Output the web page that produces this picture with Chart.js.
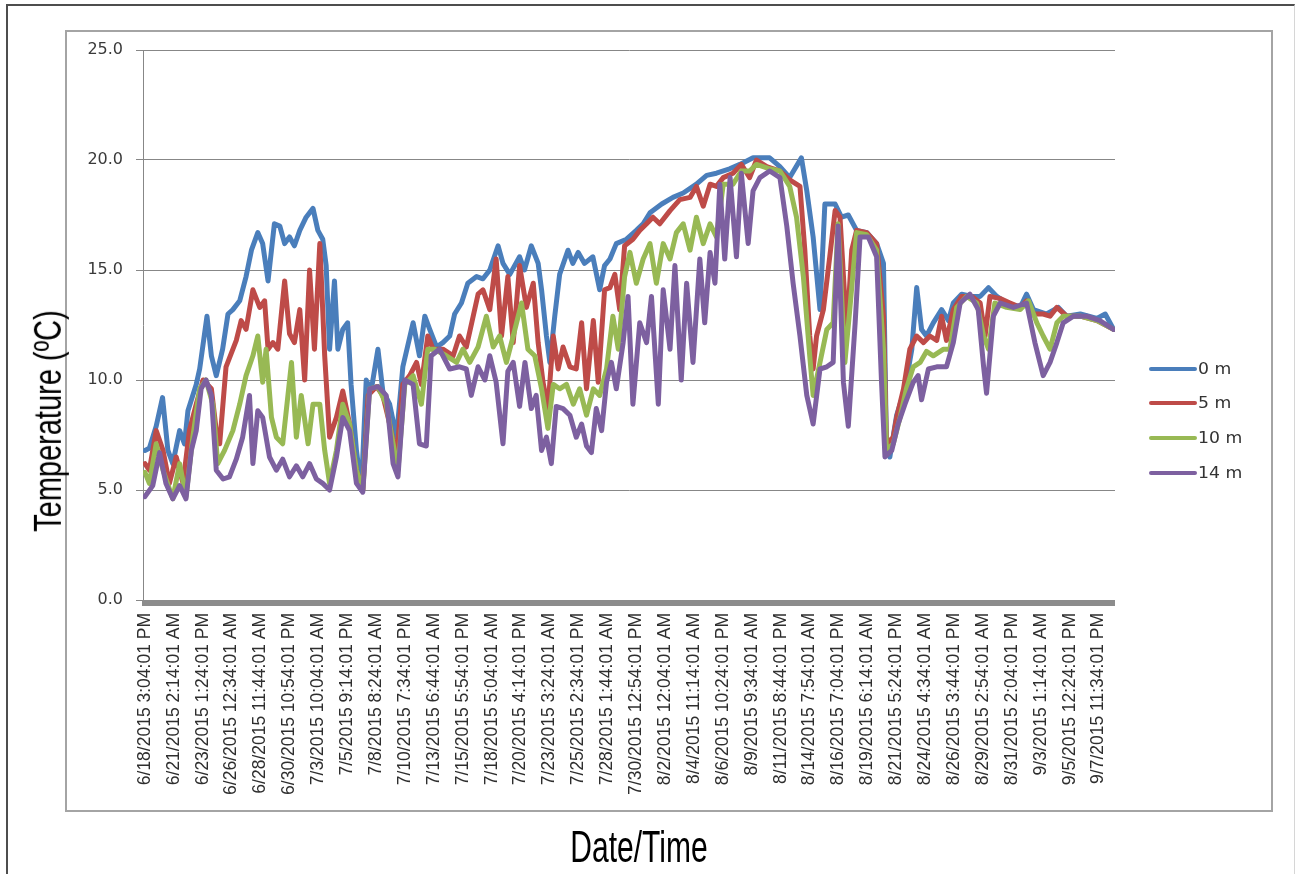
<!DOCTYPE html>
<html>
<head>
<meta charset="utf-8">
<title>Water temperature by depth</title>
<script src="https://cdn.jsdelivr.net/npm/chart.js@4.4.1/dist/chart.umd.min.js"></script>
<style>
  html, body { margin: 0; padding: 0; background: #fff; }
  #wrap { position: relative; width: 1295px; height: 874px; overflow: hidden; background: #fff; }
  #outer { position: absolute; left: 6px; top: 4px; width: 1286px; height: 900px;
           border-left: 2px solid #4d4d4d; border-top: 2px solid #4d4d4d; border-right: 1px solid #d6d6d6; }
  #inner { position: absolute; left: 65px; top: 30px; width: 1204px; height: 778px; border: 2px solid #a4a4a4; }
  #chart { position: absolute; left: 0; top: 0; }
  .title { position: absolute; font-family: "Liberation Sans", Arial, sans-serif; font-size: 29px;
           line-height: 29px; white-space: nowrap; color: #000; }
  #ytitle { left: 48px; top: 421px; transform: translate(-50%, -50%) rotate(-90deg) scale(1, 1.34); }
  #xtitle { left: 639px; top: 847px; font-size: 30px; line-height: 30px;
            transform: translate(-50%, -50%) scale(1, 1.5); }
  .legItem { position: absolute; left: 1149px; height: 20px; }
  .legLine { position: absolute; left: 0; top: 8px; width: 48px; height: 4px; border-radius: 2px; }
  .legText { position: absolute; left: 49px; top: 0; font-family: "DejaVu Sans", Verdana, sans-serif;
             font-size: 15px; line-height: 20px; color: #333; white-space: nowrap;
             transform: scaleX(1.15); transform-origin: left center; }
</style>
</head>
<body>
<div id="wrap">
  <div id="outer"></div>
  <div id="inner"></div>
  <canvas id="chart" width="1295" height="874"></canvas>
  <div id="ytitle" class="title">Temperature (ºC)</div>
  <div id="xtitle" class="title">Date/Time</div>
  <div id="legend"></div>
</div>
<script>
// Series names and colours (Excel-style palette)
const seriesNames  = ['0 m', '5 m', '10 m', '14 m'];
const seriesColors = ['#4A7EBB', '#BE4B48', '#98B954', '#7D60A0'];

// Category labels shown on the time axis, one every 3550 minutes from the first reading
const tickLabels = [
  '6/18/2015 3:04:01 PM', '6/21/2015 2:14:01 AM', '6/23/2015 1:24:01 PM', '6/26/2015 12:34:01 AM',
  '6/28/2015 11:44:01 AM', '6/30/2015 10:54:01 PM', '7/3/2015 10:04:01 AM', '7/5/2015 9:14:01 PM',
  '7/8/2015 8:24:01 AM', '7/10/2015 7:34:01 PM', '7/13/2015 6:44:01 AM', '7/15/2015 5:54:01 PM',
  '7/18/2015 5:04:01 AM', '7/20/2015 4:14:01 PM', '7/23/2015 3:24:01 AM', '7/25/2015 2:34:01 PM',
  '7/28/2015 1:44:01 AM', '7/30/2015 12:54:01 PM', '8/2/2015 12:04:01 AM', '8/4/2015 11:14:01 AM',
  '8/6/2015 10:24:01 PM', '8/9/2015 9:34:01 AM', '8/11/2015 8:44:01 PM', '8/14/2015 7:54:01 AM',
  '8/16/2015 7:04:01 PM', '8/19/2015 6:14:01 AM', '8/21/2015 5:24:01 PM', '8/24/2015 4:34:01 AM',
  '8/26/2015 3:44:01 PM', '8/29/2015 2:54:01 AM', '8/31/2015 2:04:01 PM', '9/3/2015 1:14:01 AM',
  '9/5/2015 12:24:01 PM', '9/7/2015 11:34:01 PM'
];
const tickStepHours = 3550 / 60;
const yTickValues = [0, 5, 10, 15, 20, 25];

// Readings: hours since 6/18/2015 3:04 PM, and temperature in °C
const hours0 = [0,9,23,36,47,57,71,81,88,105,112,127,136,146,159,170,180,194,207,218,
  231,241,252,265,276,286,296,306,317,330,344,354,364,371,378,388,395,405,415,422,
  433,443,453,463,477,487,501,515,528,549,562,573,583,597,610,624,634,648,661,679,
  692,706,723,733,747,767,777,791,805,812,822,829,839,849,866,876,887,900,917,931,
  941,952,965,986,1006,1020,1034,1058,1081,1102,1129,1150,1170,1197,1218,1245,1279,1300,1320,1344,
  1355,1368,1382,1392,1413,1426,1440,1457,1478,1498,1512,1518,1525,1539,1556,1570,1580,1590,1600,1614,
  1631,1645,1655,1672,1693,1710,1727,1744,1764,1792,1805,1819,1846,1870,1887,1915,1949,1966,1983];
const temp0 = [6.8,6.9,7.9,9.2,6.8,6.2,7.7,7.1,8.6,9.8,10.5,12.9,11.1,10.2,11.4,13.0,13.2,13.6,14.7,15.9,
  16.7,16.2,14.5,17.1,17.0,16.2,16.5,16.1,16.8,17.4,17.8,16.8,16.4,15.2,11.4,14.5,11.4,12.3,12.6,9.8,
  6.8,5.0,10.0,9.5,11.4,9.5,8.9,7.4,10.6,12.6,11.1,12.9,12.3,11.5,11.7,12.0,13.0,13.5,14.4,14.7,
  14.6,15.0,16.1,15.3,14.8,15.6,15.0,16.1,15.3,14.1,12.0,10.8,12.9,14.8,15.9,15.3,15.8,15.3,15.6,14.1,
  15.2,15.5,16.2,16.4,16.8,17.1,17.6,18.0,18.3,18.5,18.9,19.3,19.4,19.6,19.8,20.1,20.1,19.7,19.2,20.1,
  18.6,16.5,13.2,18.0,18.0,17.4,17.5,16.8,16.7,16.2,15.3,7.1,6.5,8.4,9.6,11.4,14.2,12.3,12.0,12.6,
  13.2,12.7,13.5,13.9,13.8,13.8,14.2,13.8,13.5,13.3,13.9,13.2,13.0,13.3,12.9,13.0,12.8,13.0,12.3];

const hours5 = [0,9,23,37,50,64,78,91,105,119,136,146,153,166,187,197,207,221,235,245,
  252,262,272,286,296,306,317,327,337,347,358,368,378,392,405,419,433,446,457,474,
  487,501,515,528,542,556,566,579,590,610,631,644,658,672,682,692,706,719,730,743,
  754,767,781,795,805,815,825,836,846,856,870,883,894,904,918,928,941,952,962,972,
  982,999,1013,1027,1040,1054,1075,1095,1116,1129,1143,1157,1170,1184,1204,1221,1238,1252,1273,1300,
  1320,1341,1351,1361,1368,1375,1389,1402,1413,1423,1437,1447,1457,1478,1498,1512,1518,1532,1539,1553,
  1566,1580,1594,1607,1621,1631,1641,1655,1672,1693,1710,1720,1730,1751,1771,1792,1805,1819,1839,1853,
  1867,1887,1915,1949,1983];
const temp5 = [6.2,5.9,7.7,6.8,5.3,6.5,5.3,7.7,8.9,10.0,9.6,7.7,7.1,10.6,11.8,12.7,12.3,14.1,13.3,13.6,
  11.4,11.7,11.4,14.5,12.1,11.7,13.2,10.0,15.0,11.4,16.2,11.1,7.4,8.3,9.5,8.0,5.9,5.0,9.3,9.7,
  9.3,8.0,6.5,9.8,10.2,10.8,9.8,12.0,11.4,11.4,11.1,12.0,11.5,12.9,13.9,14.1,13.2,15.5,12.0,14.7,
  11.7,15.2,13.3,14.4,11.7,9.9,8.7,12.0,10.5,11.5,10.6,10.5,12.6,9.6,12.7,9.9,14.1,14.2,14.8,13.2,
  16.1,16.4,16.8,17.1,17.4,17.1,17.7,18.2,18.3,18.8,17.9,18.9,18.8,19.2,19.4,19.8,19.2,20.0,19.7,19.5,
  19.1,18.8,15.9,12.0,10.5,12.0,13.2,15.6,17.7,17.4,12.1,15.9,16.8,16.7,16.2,12.9,7.1,7.4,8.3,9.6,
  11.4,12.0,11.7,12.0,11.8,12.9,11.8,13.2,13.8,13.8,13.5,12.0,13.8,13.7,13.5,13.3,13.6,13.0,13.0,12.9,
  13.3,12.9,12.9,12.7,12.3];

const hours10 = [0,9,23,37,57,71,84,98,112,125,139,149,163,180,194,207,221,231,241,248,
  259,269,282,300,310,320,334,344,358,368,378,392,405,419,433,446,460,477,494,508,
  518,532,549,566,579,593,617,638,651,665,682,699,713,726,740,754,771,784,798,812,
  825,836,849,863,877,890,904,918,931,945,958,969,982,993,1006,1020,1034,1047,1061,1075,
  1088,1102,1116,1129,1143,1157,1170,1184,1204,1221,1238,1252,1279,1300,1320,1334,1348,1361,1368,1382,
  1396,1409,1419,1433,1443,1457,1478,1498,1512,1518,1532,1546,1559,1573,1587,1600,1614,1635,1648,1662,
  1682,1703,1717,1727,1740,1764,1792,1809,1826,1839,1853,1867,1880,1915,1949,1983];
const temp10 = [5.8,5.3,7.1,5.9,4.6,6.2,4.7,7.4,9.6,10.0,8.9,6.2,6.8,7.7,8.9,10.2,11.1,12.0,9.9,11.4,
  8.3,7.4,7.1,10.8,7.4,9.3,7.1,8.9,8.9,6.8,5.3,6.8,8.9,8.0,5.9,5.0,9.6,9.7,8.9,7.1,
  5.9,9.8,10.2,8.9,11.4,11.4,11.1,10.8,11.4,10.8,11.5,12.9,11.5,12.0,10.8,12.0,13.5,11.4,11.1,9.6,
  7.8,9.8,9.6,9.8,8.9,9.6,8.4,9.6,9.3,10.5,12.9,11.4,14.7,15.8,14.4,15.5,16.2,14.4,16.2,15.5,
  16.7,17.1,15.9,17.4,16.2,17.1,16.5,18.9,18.9,19.5,19.5,19.8,19.6,19.5,18.8,17.4,14.7,11.1,9.3,10.8,
  12.3,12.6,17.1,10.8,13.2,16.7,16.6,15.9,11.4,6.8,7.1,8.3,9.6,10.6,10.8,11.3,11.1,11.4,11.4,13.3,
  13.8,13.5,12.0,11.4,13.5,13.3,13.2,13.6,12.6,12.0,11.4,12.6,12.9,12.9,12.7,12.3];

const hours14 = [0,16,30,43,57,71,84,95,105,115,125,136,146,160,173,187,200,214,221,231,
  241,255,269,282,296,310,323,337,351,364,378,392,405,419,433,446,460,477,494,508,
  518,532,549,562,576,586,603,624,644,658,668,682,696,706,719,733,743,754,767,778,
  791,801,812,822,832,842,856,870,883,894,904,914,924,935,945,955,965,979,989,999,
  1013,1027,1037,1051,1061,1075,1085,1098,1109,1122,1136,1146,1157,1167,1177,1187,1198,1211,1221,1235,
  1245,1259,1279,1300,1314,1327,1341,1355,1368,1382,1396,1409,1419,1430,1440,1454,1464,1481,1498,1508,
  1515,1529,1542,1556,1573,1583,1590,1604,1621,1641,1655,1669,1689,1706,1717,1723,1737,1751,1778,1805,
  1822,1839,1853,1867,1880,1901,1928,1955,1983];
const temp14 = [4.7,5.2,6.7,5.3,4.6,5.2,4.6,6.8,7.7,9.6,10.0,9.3,5.9,5.5,5.6,6.4,7.4,9.3,6.2,8.6,
  8.3,6.5,5.9,6.4,5.6,6.1,5.6,6.2,5.5,5.3,5.0,6.5,8.3,7.7,5.3,4.9,9.6,9.7,9.3,6.2,
  5.6,10.0,9.8,7.1,7.0,11.1,11.4,10.5,10.6,10.5,9.3,10.6,10.0,11.1,9.9,7.1,10.4,10.8,8.8,10.8,
  8.7,9.3,6.8,7.4,6.2,8.8,8.7,8.4,7.4,8.0,7.0,6.7,8.7,7.7,9.9,10.8,9.6,11.7,13.8,8.9,
  12.6,11.7,13.8,8.9,14.1,11.4,15.2,10.0,14.4,10.8,15.5,12.6,15.8,14.4,18.9,15.5,19.2,15.6,19.4,16.2,
  18.6,19.2,19.5,19.2,17.0,14.4,12.0,9.3,8.0,10.5,10.6,10.8,17.0,9.9,7.9,12.6,16.5,16.5,15.6,9.9,
  6.5,6.8,8.0,8.9,9.9,10.2,9.1,10.5,10.6,10.6,11.7,13.5,13.9,13.2,10.6,9.4,12.9,13.5,13.3,13.5,
  11.7,10.2,10.8,11.7,12.6,12.9,12.9,12.7,12.3];

const seriesHours = [hours0, hours5, hours10, hours14];
const seriesTemps = [temp0, temp5, temp10, temp14];

const pairUp = (hs, ts) => hs.slice(0, Math.min(hs.length, ts.length)).map((h, i) => ({ x: h, y: ts[i] }));

const datasets = seriesNames.map((name, k) => ({
  label: name,
  data: pairUp(seriesHours[k], seriesTemps[k]),
  borderColor: seriesColors[k],
  backgroundColor: seriesColors[k],
  borderWidth: 5,
  pointRadius: 0,
  tension: 0,
  borderJoinStyle: 'round',
  borderCapStyle: 'round',
  order: seriesNames.length - 1 - k   // deepest series painted last, on top
}));

// Heavy grey category axis bar along the bottom of the plot area
const baseBar = {
  id: 'baseBar',
  afterDraw(chart) {
    const { ctx, chartArea: a } = chart;
    ctx.save();
    ctx.fillStyle = '#8c8c8c';
    ctx.fillRect(a.left - 1, a.bottom, a.right - a.left + 1, 6);
    ctx.restore();
  }
};

const padLeft = 70, padRight = 180, padTop = 50;
const plotLeft = 143, plotBottom = 600;

new Chart(document.getElementById('chart'), {
  type: 'line',
  data: { datasets },
  plugins: [baseBar],
  options: {
    responsive: false,
    devicePixelRatio: 1,
    animation: false,
    layout: { padding: { left: padLeft, right: padRight, top: padTop, bottom: 0 } },
    plugins: { legend: { display: false }, tooltip: { enabled: false } },
    scales: {
      x: {
        type: 'linear',
        min: -4,
        max: 1986,
        afterBuildTicks: (scale) => {
          scale.ticks = tickLabels.map((_, i) => ({ value: i * tickStepHours }));
        },
        afterFit: (scale) => { scale.height = 874 - plotBottom; },
        grid: { display: false, drawTicks: false },
        border: { display: false },
        ticks: {
          autoSkip: false,
          minRotation: 90,
          maxRotation: 90,
          padding: 13,
          color: '#2e2e2e',
          font: { family: '"Liberation Sans", Arial, sans-serif', size: 17.5 },
          callback: (value, index) => tickLabels[index]
        }
      },
      y: {
        min: 0,
        max: 25,
        afterBuildTicks: (scale) => {
          scale.ticks = yTickValues.map(v => ({ value: v }));
        },
        afterFit: (scale) => { scale.width = plotLeft - padLeft; },
        grid: { color: '#878787', lineWidth: 1, tickLength: 7, drawTicks: true },
        border: { display: true, color: '#878787', width: 1 },
        ticks: {
          padding: 13,
          color: '#3a3a3a',
          font: { family: '"DejaVu Sans", Verdana, sans-serif', size: 16 },
          callback: (v) => Number(v).toFixed(1)
        }
      }
    }
  }
});

// Legend on the right, built from the series definitions
const legendTops = [359, 393, 428, 463];
const legend = document.getElementById('legend');
seriesNames.forEach((name, k) => {
  const item = document.createElement('div');
  item.className = 'legItem';
  item.style.top = legendTops[k] + 'px';
  const line = document.createElement('div');
  line.className = 'legLine';
  line.style.background = seriesColors[k];
  const text = document.createElement('div');
  text.className = 'legText';
  text.textContent = name;
  item.appendChild(line);
  item.appendChild(text);
  legend.appendChild(item);
});
</script>
</body>
</html>
